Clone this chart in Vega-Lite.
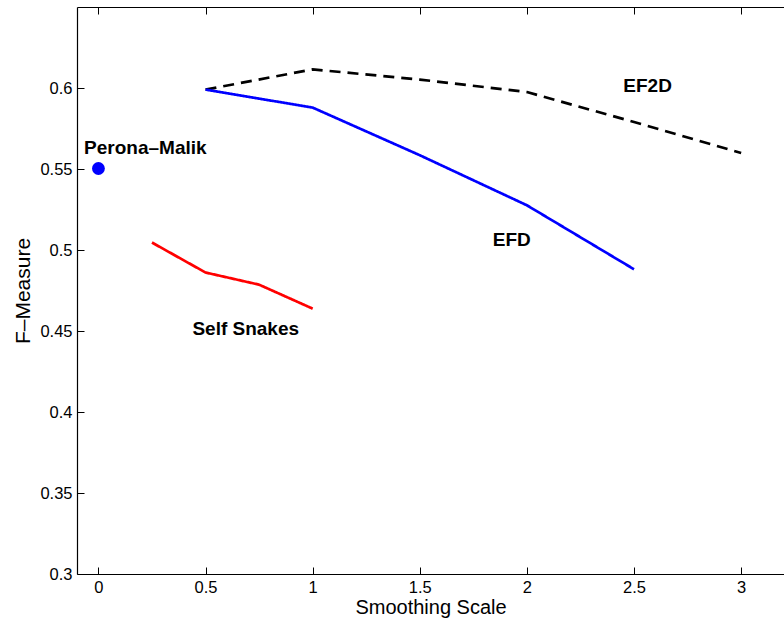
{
  "$schema": "https://vega.github.io/schema/vega-lite/v6.json",
  "width": 707,
  "height": 567,
  "autosize": {"type": "none"},
  "padding": {"left": 77, "top": 7, "right": 0, "bottom": 50},
  "background": "white",
  "config": {
    "view": {"stroke": null},
    "font": "Liberation Sans",
    "axis": {
      "labelFont": "Liberation Sans",
      "titleFont": "Liberation Sans",
      "labelColor": "#000000",
      "titleColor": "#000000",
      "domainColor": "#000000",
      "tickColor": "#000000",
      "domainWidth": 1.2,
      "tickWidth": 1,
      "grid": false
    }
  },
  "datasets": {
    "curves": [
      {"series": "EF2D", "x": 0.5, "y": 0.599},
      {"series": "EF2D", "x": 1.0, "y": 0.6115},
      {"series": "EF2D", "x": 1.5, "y": 0.6052},
      {"series": "EF2D", "x": 2.0, "y": 0.5975},
      {"series": "EF2D", "x": 2.5, "y": 0.579},
      {"series": "EF2D", "x": 3.0, "y": 0.5599},
      {"series": "EFD", "x": 0.5, "y": 0.599},
      {"series": "EFD", "x": 1.0, "y": 0.5879},
      {"series": "EFD", "x": 1.5, "y": 0.5585},
      {"series": "EFD", "x": 2.0, "y": 0.5276},
      {"series": "EFD", "x": 2.5, "y": 0.4881},
      {"series": "Self Snakes", "x": 0.25, "y": 0.5046},
      {"series": "Self Snakes", "x": 0.5, "y": 0.4861},
      {"series": "Self Snakes", "x": 0.75, "y": 0.4786},
      {"series": "Self Snakes", "x": 1.0, "y": 0.4638}
    ],
    "point": [{"x": 0, "y": 0.5503}],
    "labels": [
      {"label": "Perona–Malik", "x": -0.067, "y": 0.5595},
      {"label": "Self Snakes", "x": 0.4386, "y": 0.4473},
      {"label": "EFD", "x": 1.841, "y": 0.5025},
      {"label": "EF2D", "x": 2.45, "y": 0.5975}
    ]
  },
  "layer": [
    {
      "data": {"name": "curves"},
      "mark": {"type": "line", "strokeWidth": 2.7, "clip": true},
      "encoding": {
        "x": {
          "field": "x", "type": "quantitative",
          "scale": {"domain": [-0.1, 3.2], "nice": false, "zero": false},
          "axis": {
            "orient": "bottom", "values": [0, 0.5, 1, 1.5, 2, 2.5, 3], "format": "~g",
            "tickSize": -7, "labelPadding": 12, "labelFontSize": 16.5,
            "title": "Smoothing Scale", "titleFontSize": 20, "titleFontWeight": "normal",
            "titleBaseline": "alphabetic", "titleY": 39
          }
        },
        "y": {
          "field": "y", "type": "quantitative",
          "scale": {"domain": [0.3, 0.65], "nice": false, "zero": false},
          "axis": {
            "orient": "left", "values": [0.3, 0.35, 0.4, 0.45, 0.5, 0.55, 0.6], "format": "~g",
            "tickSize": -7, "labelPadding": 12, "labelFontSize": 16.5,
            "title": "F–Measure", "titleFontSize": 21, "titleFontWeight": "normal", "titlePadding": 6
          }
        },
        "color": {
          "field": "series", "type": "nominal",
          "scale": {"domain": ["EF2D", "EFD", "Self Snakes"], "range": ["#000000", "#0000ff", "#ff0000"]},
          "legend": null
        },
        "strokeDash": {
          "field": "series", "type": "nominal",
          "scale": {"domain": ["EF2D", "EFD", "Self Snakes"], "range": [[11, 7], [1, 0], [1, 0]]},
          "legend": null
        }
      }
    },
    {
      "data": {"name": "point"},
      "mark": {"type": "point", "filled": true, "size": 165, "color": "#0000ff", "opacity": 1},
      "encoding": {
        "x": {
          "field": "x", "type": "quantitative",
          "axis": {
            "orient": "top", "values": [0, 0.5, 1, 1.5, 2, 2.5, 3], "labels": false,
            "tickSize": -7, "title": null
          }
        },
        "y": {"field": "y", "type": "quantitative"}
      }
    },
    {
      "data": {"name": "labels"},
      "mark": {"type": "text", "fontWeight": "bold", "fontSize": 19, "align": "left", "baseline": "alphabetic", "color": "#000000", "font": "Liberation Sans"},
      "encoding": {
        "x": {"field": "x", "type": "quantitative", "axis": null},
        "y": {"field": "y", "type": "quantitative"},
        "text": {"field": "label"}
      }
    }
  ],
  "resolve": {"axis": {"x": "independent"}}
}
